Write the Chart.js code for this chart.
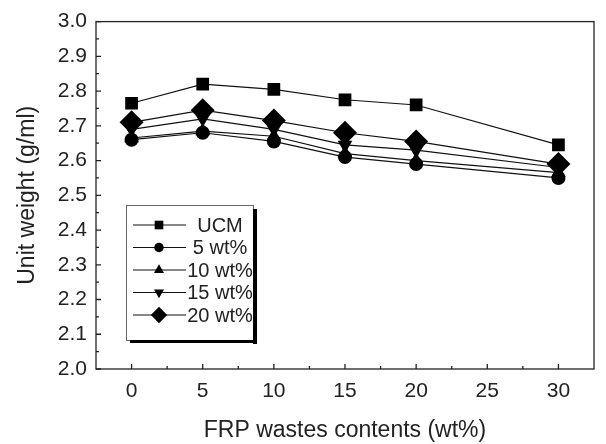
<!DOCTYPE html>
<html>
<head>
<meta charset="utf-8">
<script src="https://cdn.jsdelivr.net/npm/chart.js@4/dist/chart.umd.min.js"></script>
<style>
  html, body { margin: 0; padding: 0; background: #fff; }
  #wrap { width: 606px; height: 444px; }
</style>
</head>
<body>
<div id="wrap"><canvas id="chart" width="606" height="444"></canvas></div>
<script>
const contents = [0, 5, 10, 15, 20, 30];
const xTicks = [0, 5, 10, 15, 20, 25, 30];
const yTicks = [2.0, 2.1, 2.2, 2.3, 2.4, 2.5, 2.6, 2.7, 2.8, 2.9, 3.0];

const ucm = [2.765, 2.82, 2.805, 2.775, 2.76, 2.645];
const wt5 = [2.66, 2.68, 2.655, 2.61, 2.59, 2.55];
const wt10 = [2.665, 2.685, 2.67, 2.62, 2.6, 2.565];
const wt15 = [2.69, 2.72, 2.69, 2.645, 2.63, 2.58];
const wt20 = [2.71, 2.745, 2.715, 2.68, 2.655, 2.59];

const seriesNames = ["UCM", "5 wt%", "10 wt%", "15 wt%", "20 wt%"];

const ink = "#111";
const font = "'Liberation Sans', Arial, sans-serif";

function makeSet(label, values, style, radius, rotation) {
  return {
    label,
    data: contents.map((x, i) => ({ x, y: values[i] })),
    borderColor: ink,
    borderWidth: 1.2,
    backgroundColor: "#000",
    pointBackgroundColor: "#000",
    pointBorderColor: "#000",
    pointBorderWidth: 0,
    pointStyle: style,
    pointRadius: radius,
    pointRotation: rotation || 0,
    tension: 0,
  };
}

// frame + inward ticks
const framePlugin = {
  id: "frame",
  afterDraw(chart) {
    const { ctx, chartArea: a, scales } = chart;
    ctx.save();
    ctx.strokeStyle = "#222";
    ctx.lineWidth = 1.3;
    ctx.strokeRect(a.left, a.top, a.right - a.left, a.bottom - a.top);

    ctx.beginPath();
    xTicks.forEach((v, i) => {
      const px = scales.x.getPixelForValue(v);
      ctx.moveTo(px, a.bottom);
      ctx.lineTo(px, a.bottom - 5);
      if (i < xTicks.length - 1) {
        const mx = scales.x.getPixelForValue(v + 2.5);
        ctx.moveTo(mx, a.bottom);
        ctx.lineTo(mx, a.bottom - 3);
      }
    });
    yTicks.forEach((v, i) => {
      const py = scales.y.getPixelForValue(v);
      ctx.moveTo(a.left, py);
      ctx.lineTo(a.left + 5, py);
      if (i < yTicks.length - 1) {
        const my = scales.y.getPixelForValue(v + 0.05);
        ctx.moveTo(a.left, my);
        ctx.lineTo(a.left + 3, my);
      }
    });
    ctx.stroke();
    ctx.restore();
  },
};

// legend box inside the plot, with a drop shadow
const boxLegend = {
  id: "boxLegend",
  afterDraw(chart) {
    const { ctx } = chart;
    const left = 126, top = 205, w = 127, h = 135;
    ctx.save();
    ctx.fillStyle = "#fff";
    ctx.fillRect(left, top, w, h);
    ctx.strokeStyle = "#666";
    ctx.lineWidth = 1;
    ctx.strokeRect(left + 0.5, top + 0.5, w, h);

    chart.data.datasets.forEach((ds, i) => {
      const y = 225 + i * 22.5;
      ctx.strokeStyle = ink;
      ctx.lineWidth = 1.2;
      ctx.beginPath();
      ctx.moveTo(133, y);
      ctx.lineTo(186, y);
      ctx.stroke();
      ctx.fillStyle = "#000";
      Chart.helpers.drawPoint(ctx, {
        pointStyle: ds.pointStyle,
        radius: ds.pointRadius * 0.68,
        rotation: ds.pointRotation,
        borderWidth: 0,
      }, 159, y);
      ctx.fillStyle = "#222";
      ctx.font = "20px " + font;
      ctx.textAlign = "center";
      ctx.textBaseline = "middle";
      ctx.fillText(ds.label, 220, y + 1);
    });

    ctx.fillStyle = "#000";
    ctx.fillRect(left + w, top + 4, 4, h);
    ctx.fillRect(left + 4, top + h, w, 3);
    ctx.restore();
  },
};

new Chart(document.getElementById("chart"), {
  type: "line",
  data: {
    datasets: [
      makeSet(seriesNames[0], ucm, "rect", 9),
      makeSet(seriesNames[1], wt5, "circle", 7),
      makeSet(seriesNames[2], wt10, "triangle", 8.5),
      makeSet(seriesNames[3], wt15, "triangle", 8.5, 180),
      makeSet(seriesNames[4], wt20, "rectRot", 12),
    ],
  },
  options: {
    responsive: false,
    animation: false,
    layout: { padding: { top: 21, right: 4, left: 0, bottom: 0 } },
    plugins: { legend: { display: false }, tooltip: { enabled: false } },
    scales: {
      x: {
        type: "linear",
        min: -2.5,
        max: 32.5,
        afterBuildTicks: (scale) => { scale.ticks = xTicks.map((v) => ({ value: v })); },
        afterFit: (scale) => { scale.height = 75; },
        grid: { display: false, drawTicks: false },
        border: { display: false },
        ticks: { color: "#222", font: { family: font, size: 21 }, padding: 10 },
        title: {
          display: true,
          text: "FRP wastes contents (wt%)",
          color: "#222",
          font: { family: font, size: 23 },
          padding: { top: 0, bottom: 0 },
        },
      },
      y: {
        min: 2.0,
        max: 3.0,
        afterBuildTicks: (scale) => { scale.ticks = yTicks.map((v) => ({ value: v })); },
        afterFit: (scale) => { scale.width = 96; },
        grid: { display: false, drawTicks: false },
        border: { display: false },
        ticks: {
          color: "#222",
          font: { family: font, size: 21 },
          padding: 9,
          callback: (v) => Number(v).toFixed(1),
        },
        title: {
          display: true,
          text: "Unit weight (g/ml)",
          color: "#222",
          font: { family: font, size: 23 },
          padding: { top: 14, bottom: 0 },
        },
      },
    },
  },
  plugins: [framePlugin, boxLegend],
});
</script>
</body>
</html>
